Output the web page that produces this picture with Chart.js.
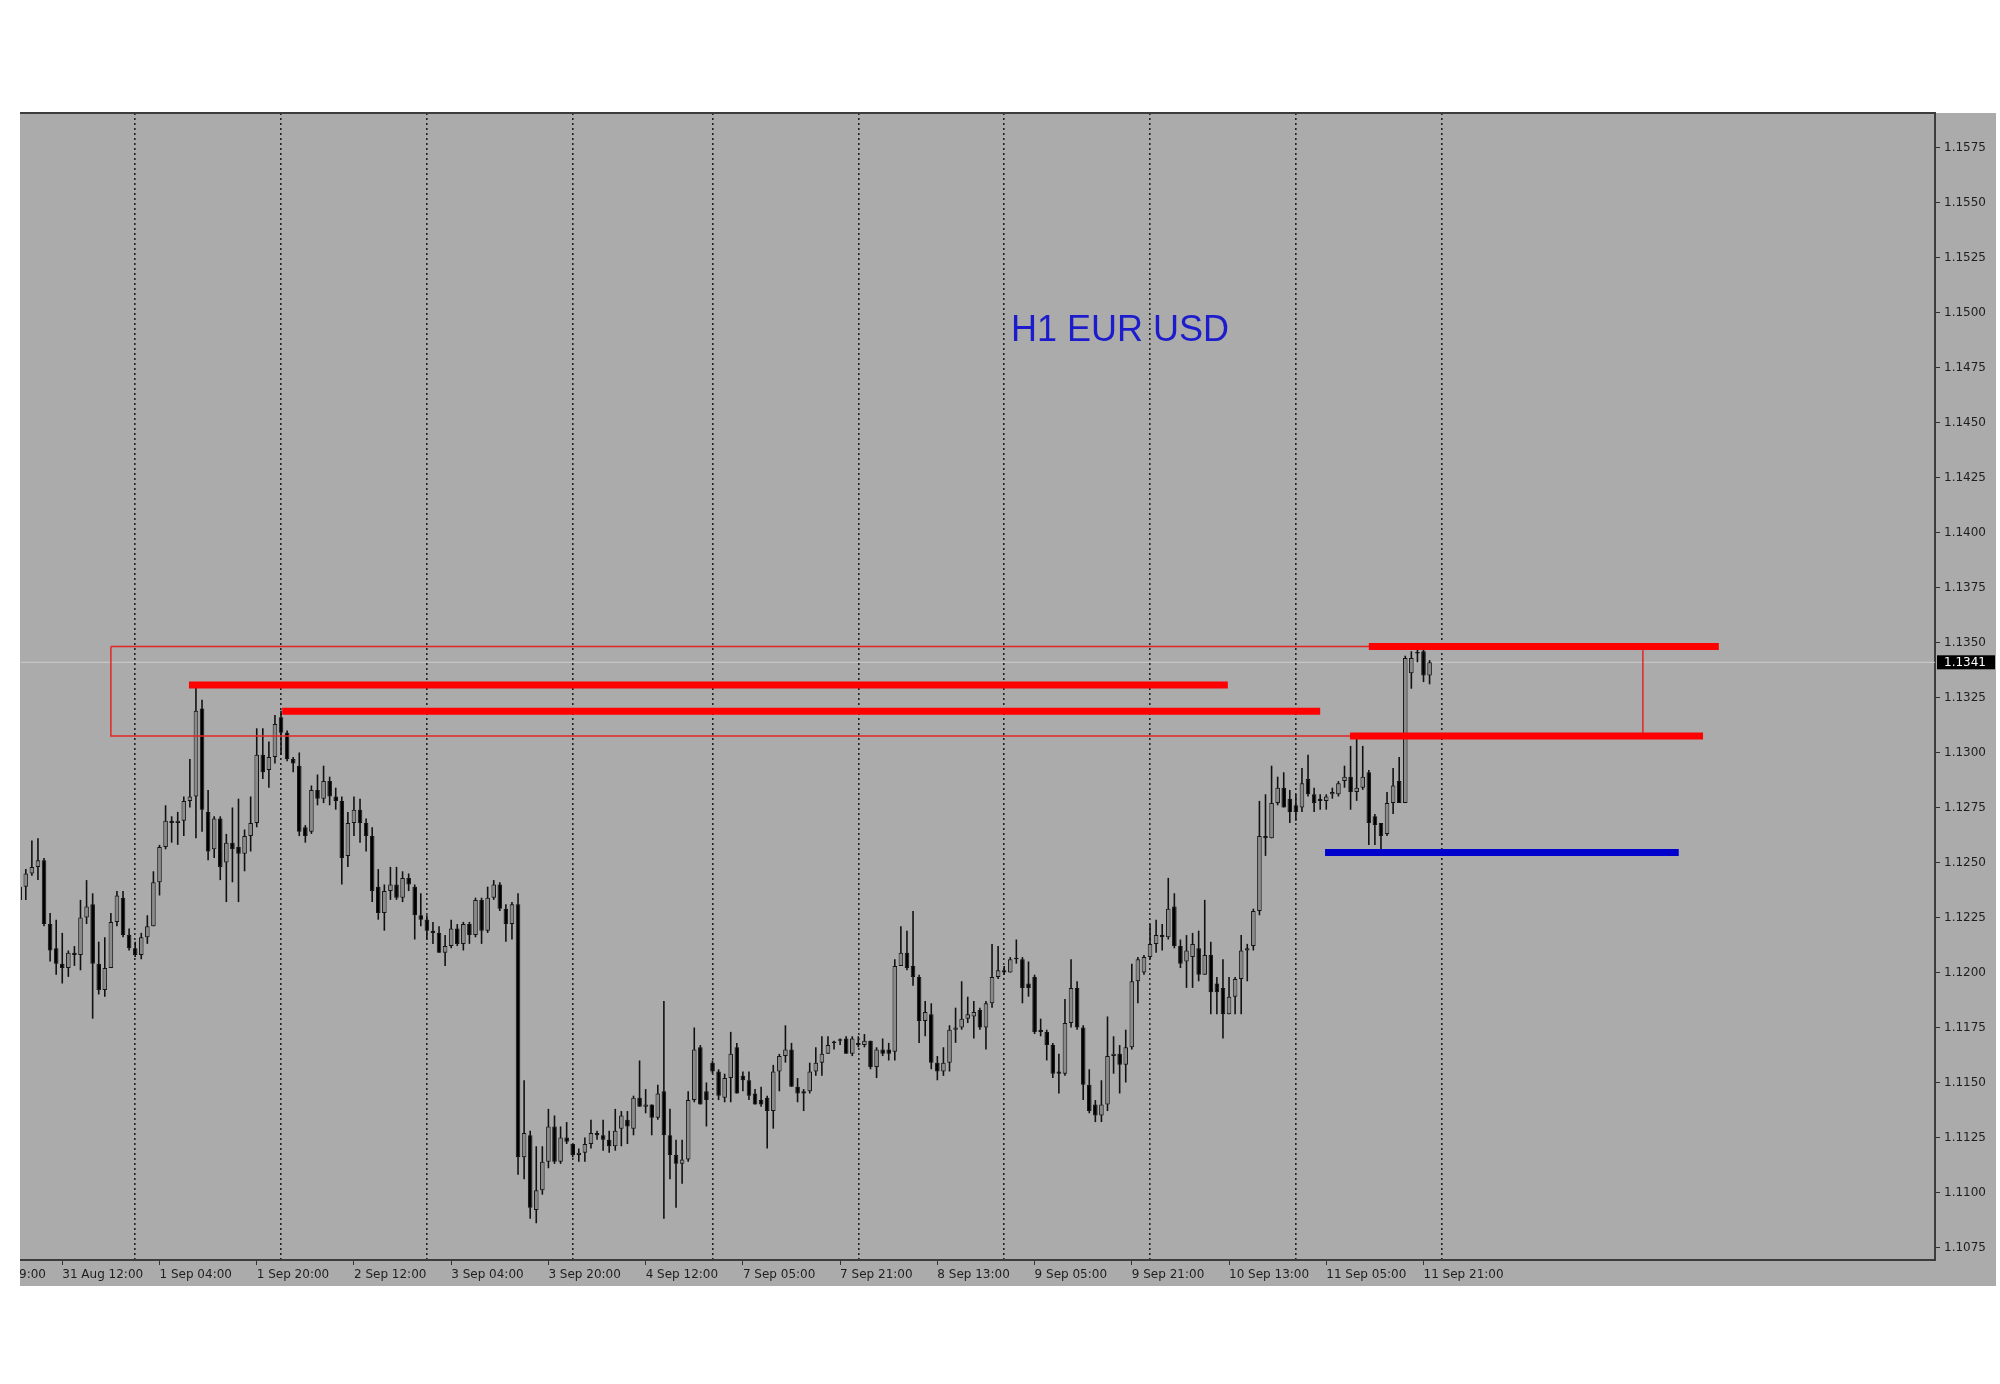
<!DOCTYPE html>
<html><head><meta charset="utf-8">
<script src="https://cdn.jsdelivr.net/npm/chart.js@4.4.1/dist/chart.umd.min.js"></script>
<style>html,body{margin:0;padding:0;background:#fff;} canvas{display:block;}</style>
</head><body>
<canvas id="c" width="2000" height="1384" style="width:2000px;height:1384px"></canvas>
<script>
// ---- DATA (hourly EURUSD bars, 31 Aug 05:00 .. 11 Sep 22:00) ----
const opens = [
1.1233,1.1239,1.1245,1.1248,1.1251,1.1222,1.1211,1.1204,1.1202,1.1209,
1.1208,1.1225,1.1231,1.1204,1.1192,1.1202,1.1223,1.1234,1.1217,1.1211,
1.1208,1.1216,1.1221,1.1241,1.1257,1.1269,1.1268,1.1269,1.1278,1.1280,
1.1320,1.1273,1.1256,1.1270,1.1250,1.1259,1.1257,1.1254,1.1262,1.1268,
1.1299,1.1292,1.1298,1.1316,1.1309,1.1297,1.1294,1.1266,1.1264,1.1283,
1.1279,1.1287,1.1280,1.1278,1.1253,1.1268,1.1274,1.1268,1.1262,1.1239,
1.1227,1.1237,1.1240,1.1234,1.1243,1.1239,1.1226,1.1224,1.1219,1.1218,
1.1209,1.1212,1.1220,1.1213,1.1222,1.1217,1.1233,1.1219,1.1234,1.1240,
1.1229,1.1222,1.1231,1.1116,1.1126,1.1092,1.1101,1.1114,1.1130,1.1114,
1.1125,1.1122,1.1117,1.1118,1.1122,1.1127,1.1126,1.1124,1.1121,1.1129,
1.1133,1.1129,1.1143,1.1139,1.1140,1.1134,1.1146,1.1126,1.1117,1.1113,
1.1115,1.1142,1.1166,1.1146,1.1159,1.1155,1.1143,1.1152,1.1166,1.1153,
1.1151,1.1145,1.1142,1.1143,1.1137,1.1155,1.1162,1.1165,1.1148,1.1146,
1.1146,1.1155,1.1159,1.1163,1.1168,1.1169,1.1170,1.1163,1.1168,1.1167,
1.1169,1.1157,1.1165,1.1165,1.1164,1.1203,1.1209,1.1203,1.1198,1.1178,
1.1181,1.1159,1.1155,1.1159,1.1174,1.1175,1.1179,1.1180,1.1183,1.1175,
1.1186,1.1198,1.1201,1.1200,1.1206,1.1206,1.1195,1.1198,1.1174,1.1173,
1.1167,1.1155,1.1154,1.1177,1.1193,1.1175,1.1149,1.1140,1.1135,1.1140,
1.1162,1.1163,1.1158,1.1166,1.1196,1.1200,1.1207,1.1213,1.1217,1.1216,
1.1230,1.1212,1.1205,1.1207,1.1211,1.1199,1.1208,1.1195,1.1193,1.1181,
1.1189,1.1197,1.1210,1.1212,1.1228,1.1262,1.1261,1.1277,1.1284,1.1279,
1.1276,1.1275,1.1288,1.1281,1.1279,1.1278,1.1281,1.1281,1.1287,1.1289,
1.1282,1.1284,1.1291,1.1271,1.1268,1.1263,1.1277,1.1287,1.1277,1.1336,
1.1345,1.1346,1.1335];
const highs = [
1.1245,1.1247,1.1260,1.1261,1.1252,1.1227,1.1224,1.1218,1.1210,1.1212,
1.1233,1.1242,1.1236,1.1214,1.1216,1.1227,1.1237,1.1237,1.1220,1.1214,
1.1218,1.1226,1.1246,1.1258,1.1276,1.1271,1.1273,1.1280,1.1297,1.1331,
1.1324,1.1283,1.1271,1.1271,1.1263,1.1275,1.1279,1.1265,1.1280,1.1311,
1.1311,1.1305,1.1317,1.1319,1.1310,1.1298,1.1300,1.1267,1.1285,1.1290,
1.1294,1.1289,1.1284,1.1280,1.1273,1.1280,1.1279,1.1270,1.1266,1.1247,
1.1240,1.1248,1.1248,1.1246,1.1245,1.1240,1.1236,1.1226,1.1223,1.1221,
1.1217,1.1224,1.1222,1.1223,1.1223,1.1234,1.1234,1.1239,1.1242,1.1241,
1.1231,1.1232,1.1236,1.1151,1.1128,1.1121,1.1121,1.1138,1.1135,1.1130,
1.1132,1.1122,1.1120,1.1125,1.1133,1.1128,1.1133,1.1128,1.1138,1.1137,
1.1137,1.1144,1.1160,1.1147,1.1140,1.1149,1.1187,1.1138,1.1124,1.1124,
1.1146,1.1175,1.1167,1.1150,1.1160,1.1156,1.1154,1.1173,1.1168,1.1155,
1.1155,1.1147,1.1148,1.1144,1.1158,1.1163,1.1176,1.1168,1.1152,1.1147,
1.1159,1.1166,1.1171,1.1171,1.1169,1.1170,1.1171,1.1171,1.1171,1.1172,
1.1169,1.1166,1.1170,1.1168,1.1206,1.1221,1.1219,1.1228,1.1199,1.1187,
1.1186,1.1162,1.1166,1.1176,1.1184,1.1196,1.1189,1.1187,1.1184,1.1187,
1.1213,1.1212,1.1203,1.1207,1.1215,1.1207,1.1205,1.1199,1.1179,1.1174,
1.1168,1.1163,1.1188,1.1206,1.1196,1.1176,1.1156,1.1142,1.1151,1.1180,
1.1171,1.1167,1.1174,1.1204,1.1207,1.1208,1.1222,1.1224,1.1222,1.1243,
1.1236,1.1215,1.1217,1.1218,1.1219,1.1233,1.1214,1.1198,1.1206,1.1198,
1.1198,1.1217,1.1213,1.1229,1.1278,1.1281,1.1294,1.1289,1.1291,1.1283,
1.1281,1.1293,1.1299,1.1284,1.1281,1.1281,1.1284,1.1287,1.1294,1.1303,
1.1307,1.1303,1.1292,1.1272,1.1268,1.1282,1.1293,1.1298,1.1344,1.1346,
1.1347,1.1347,1.1342];
const lows = [
1.1228,1.1233,1.1244,1.1242,1.1221,1.1205,1.1199,1.1195,1.1198,1.1203,
1.1201,1.1222,1.1179,1.1190,1.1189,1.1202,1.1221,1.1216,1.1210,1.1207,
1.1206,1.1213,1.1221,1.1235,1.1256,1.1259,1.1258,1.1262,1.1275,1.1261,
1.1264,1.1251,1.1252,1.1242,1.1232,1.1241,1.1232,1.1246,1.1255,1.1266,
1.1288,1.1284,1.1295,1.1299,1.1296,1.1291,1.1262,1.1259,1.1263,1.1276,
1.1277,1.1276,1.1274,1.1240,1.1248,1.1262,1.1259,1.1255,1.1232,1.1224,
1.1219,1.1233,1.1233,1.1232,1.1237,1.1215,1.1221,1.1215,1.1213,1.1209,
1.1203,1.1211,1.1212,1.1210,1.1213,1.1216,1.1213,1.1218,1.1233,1.1228,
1.1214,1.1215,1.1108,1.1106,1.1088,1.1086,1.1099,1.1111,1.1113,1.1113,
1.1122,1.1116,1.1114,1.1114,1.1120,1.1124,1.1119,1.1118,1.1119,1.1121,
1.1122,1.1126,1.1139,1.1136,1.1126,1.1133,1.1088,1.1106,1.1093,1.1104,
1.1114,1.1141,1.1140,1.1130,1.1154,1.1142,1.1141,1.1141,1.1145,1.1146,
1.1142,1.1140,1.1139,1.1120,1.1129,1.1146,1.1159,1.1148,1.1141,1.1137,
1.1145,1.1153,1.1153,1.1163,1.1165,1.1167,1.1163,1.1162,1.1166,1.1166,
1.1156,1.1152,1.1162,1.1160,1.1160,1.1203,1.1201,1.1194,1.1168,1.1171,
1.1156,1.1151,1.1153,1.1155,1.1168,1.1174,1.1177,1.1170,1.1174,1.1165,
1.1184,1.1197,1.1199,1.1200,1.1204,1.1186,1.1189,1.1172,1.1171,1.1160,
1.1152,1.1145,1.1153,1.1175,1.1174,1.1142,1.1136,1.1132,1.1132,1.1137,
1.1154,1.1145,1.1150,1.1165,1.1186,1.1199,1.1206,1.1209,1.1210,1.1215,
1.1211,1.1202,1.1193,1.1193,1.1196,1.1199,1.1181,1.1181,1.1170,1.1181,
1.1181,1.1181,1.1196,1.1210,1.1226,1.1253,1.1261,1.1276,1.1275,1.1268,
1.1269,1.1273,1.1280,1.1273,1.1274,1.1274,1.1279,1.1280,1.1284,1.1274,
1.1278,1.1283,1.1258,1.1258,1.1253,1.1262,1.1272,1.1277,1.1277,1.1329,
1.1341,1.1332,1.1331];
const closes = [
1.1239,1.1245,1.1248,1.1251,1.1222,1.1210,1.1204,1.1202,1.1209,1.1208,
1.1225,1.1230,1.1204,1.1192,1.1202,1.1223,1.1235,1.1217,1.1211,1.1208,
1.1216,1.1221,1.1241,1.1257,1.1269,1.1268,1.1269,1.1278,1.1280,1.1319,
1.1274,1.1255,1.1270,1.1248,1.1259,1.1256,1.1254,1.1262,1.1268,1.1299,
1.1291,1.1298,1.1313,1.1309,1.1297,1.1295,1.1264,1.1262,1.1283,1.1279,
1.1287,1.1280,1.1278,1.1252,1.1268,1.1274,1.1268,1.1262,1.1237,1.1227,
1.1237,1.1240,1.1234,1.1243,1.1240,1.1226,1.1224,1.1219,1.1218,1.1209,
1.1212,1.1220,1.1213,1.1222,1.1217,1.1233,1.1219,1.1234,1.1240,1.1229,
1.1222,1.1231,1.1116,1.1127,1.1093,1.1101,1.1114,1.1130,1.1114,1.1125,
1.1123,1.1117,1.1118,1.1122,1.1127,1.1126,1.1124,1.1121,1.1128,1.1135,
1.1130,1.1143,1.1139,1.1140,1.1134,1.1145,1.1126,1.1117,1.1113,1.1115,
1.1142,1.1165,1.1140,1.1142,1.1155,1.1144,1.1152,1.1163,1.1145,1.1151,
1.1144,1.1140,1.1140,1.1137,1.1155,1.1162,1.1165,1.1148,1.1145,1.1145,
1.1155,1.1159,1.1163,1.1167,1.1168,1.1169,1.1163,1.1170,1.1167,1.1169,
1.1157,1.1165,1.1163,1.1163,1.1203,1.1209,1.1202,1.1198,1.1178,1.1182,
1.1159,1.1155,1.1159,1.1174,1.1175,1.1179,1.1181,1.1182,1.1175,1.1186,
1.1198,1.1201,1.1200,1.1206,1.1206,1.1193,1.1193,1.1173,1.1173,1.1167,
1.1154,1.1154,1.1177,1.1193,1.1175,1.1149,1.1137,1.1135,1.1140,1.1162,
1.1163,1.1158,1.1166,1.1196,1.1206,1.1207,1.1213,1.1217,1.1216,1.1229,
1.1212,1.1204,1.1210,1.1213,1.1199,1.1208,1.1191,1.1191,1.1181,1.1189,
1.1197,1.1210,1.1211,1.1228,1.1262,1.1261,1.1277,1.1284,1.1275,1.1273,
1.1273,1.1286,1.1281,1.1277,1.1278,1.1280,1.1282,1.1286,1.1289,1.1282,
1.1284,1.1289,1.1268,1.1267,1.1262,1.1277,1.1285,1.1277,1.1343,1.1343,
1.1345,1.1335,1.1341];

// time-axis labels (bar index of each label, label text)
const xTickBars = [-9, 7, 23, 39, 55, 71, 87, 103, 119, 135, 151, 167, 183, 199, 215, 231];
const xTickLabels = ['28 Aug 19:00','31 Aug 12:00','1 Sep 04:00','1 Sep 20:00','2 Sep 12:00','3 Sep 04:00',
  '3 Sep 20:00','4 Sep 12:00','7 Sep 05:00','7 Sep 21:00','8 Sep 13:00','9 Sep 05:00','9 Sep 21:00',
  '10 Sep 13:00','11 Sep 05:00','11 Sep 21:00'];
// day separators (bar index of each midnight)
const daySeparatorBars = [19, 43, 67, 91, 114, 138, 162, 186, 210, 234];
// price-axis ticks
const yTickValues = [1.1075,1.1100,1.1125,1.1150,1.1175,1.1200,1.1225,1.1250,1.1275,1.1300,
  1.1325,1.1350,1.1375,1.1400,1.1425,1.1450,1.1475,1.1500,1.1525,1.1550,1.1575];
// resistance levels (price, start bar, end bar)
const resistancePrices = [1.13307, 1.13187, 1.13482, 1.13075];
const resistanceStart = [27.85, 43.2, 222.0, 218.9];
const resistanceEnd = [198.8, 214.0, 279.6, 277.0];
// support level
const supportPrices = [1.12545];
const supportStart = [214.8];
const supportEnd = [273.0];
// zone rectangle (top price, bottom price, start bar, end bar)
const zoneTop = 1.13482, zoneBottom = 1.13075, zoneStart = 15.0, zoneEnd = 267.1;
const chartTitle = 'H1 EUR USD';

// ---- STYLE ----
const BG = '#ababab';
const BULL = '#8a8a8a', BEAR = '#000000';
const RED = '#ff0000', BLUE = '#0000cd';
const X_MIN = 0.21, X_MAX = 315.17, Y_MIN = 1.10693, Y_MAX = 1.15907;
const lastPrice = closes[closes.length - 1];

const bodyData = opens.map((o, i) => ({x: i, y: [o, closes[i]]}));
const wickData = lows.map((l, i) => ({x: i, y: [l, highs[i]]}));
const bodyColors = opens.map((o, i) => closes[i] >= o ? BULL : BEAR);

const datasets = [];
resistancePrices.forEach((p, i) => datasets.push({
  type: 'line', data: [{x: resistanceStart[i], y: p}, {x: resistanceEnd[i], y: p}],
  borderColor: RED, borderWidth: 7, pointRadius: 0, borderCapStyle: 'butt', fill: false, order: 0
}));
supportPrices.forEach((p, i) => datasets.push({
  type: 'line', data: [{x: supportStart[i], y: p}, {x: supportEnd[i], y: p}],
  borderColor: BLUE, borderWidth: 7, pointRadius: 0, borderCapStyle: 'butt', fill: false, order: 0
}));
datasets.push({
  type: 'line',
  data: [{x: zoneStart, y: zoneTop}, {x: zoneEnd, y: zoneTop}, {x: zoneEnd, y: zoneBottom},
         {x: zoneStart, y: zoneBottom}, {x: zoneStart, y: zoneTop}],
  borderColor: '#e32626', borderWidth: 1.5, pointRadius: 0, fill: false, tension: 0, order: 0.5
});
datasets.push({
  type: 'line', data: [{x: X_MIN, y: lastPrice}, {x: X_MAX, y: lastPrice}],
  borderColor: '#cdcdcd', borderWidth: 1, pointRadius: 0, fill: false, order: 3
});
datasets.push({
  type: 'bar', data: wickData, backgroundColor: '#111111', barThickness: 1.6,
  grouped: false, order: 2, inflateAmount: 0
});
datasets.push({
  type: 'bar', data: bodyData, backgroundColor: bodyColors, borderColor: '#141414', borderWidth: 1,
  borderSkipped: false, barThickness: 4.6, minBarLength: 1.5, grouped: false, order: 1, inflateAmount: 0
});

const framePlugin = {
  id: 'frame',
  beforeDraw(chart) {
    const ctx = chart.ctx;
    ctx.save();
    ctx.fillStyle = '#ffffff';
    ctx.fillRect(0, 0, chart.width, chart.height);
    ctx.fillStyle = BG;
    ctx.fillRect(20, 113, 1976, 1173);
    ctx.restore();
  },
  afterDraw(chart) {
    const ctx = chart.ctx, a = chart.chartArea, y = chart.scales.y;
    ctx.save();
    ctx.fillStyle = '#ffffff';
    ctx.fillRect(0, a.bottom + 1, 20, 40);
    ctx.strokeStyle = '#3c3c3c'; ctx.lineWidth = 2;
    ctx.beginPath(); ctx.moveTo(20, a.top); ctx.lineTo(a.right, a.top); ctx.stroke();
    const py = y.getPixelForValue(lastPrice);
    ctx.fillStyle = '#000';
    ctx.fillRect(a.right + 2, py - 7, 58, 14);
    ctx.fillStyle = '#fff'; ctx.font = '12px "DejaVu Sans"'; ctx.textBaseline = 'middle'; ctx.textAlign = 'left';
    ctx.fillText(lastPrice.toFixed(4), a.right + 9, py + 0.5);
    ctx.fillStyle = '#1c1ccc'; ctx.font = '36px "Liberation Sans", Arial, sans-serif';
    ctx.textAlign = 'center';
    ctx.fillText(chartTitle, 1120, 331);
    ctx.restore();
  }
};

Chart.defaults.font.family = '"DejaVu Sans", sans-serif';
new Chart(document.getElementById('c'), {
  type: 'bar',
  data: {datasets},
  plugins: [framePlugin],
  options: {
    responsive: false, devicePixelRatio: 1, animation: false, events: [],
    layout: {padding: {left: 21, top: 113, right: 4, bottom: 98}},
    plugins: {legend: {display: false}, tooltip: {enabled: false}, title: {display: false}},
    scales: {
      x: {
        type: 'linear', position: 'bottom', min: X_MIN, max: X_MAX, offset: false,
        afterBuildTicks: s => { s.ticks = xTickBars.map(v => ({value: v})); },
        afterFit: s => { s.height = 26; s.paddingLeft = 0; s.paddingRight = 0; },
        ticks: {autoSkip: false, maxRotation: 0, minRotation: 0, align: 'start', padding: 3,
          color: '#1e1e1e', font: {size: 12}, callback: (v, i) => xTickLabels[i]},
        grid: {drawOnChartArea: false, tickLength: 5, tickColor: '#333', offset: false},
        border: {display: true, color: '#3c3c3c', width: 2}
      },
      xs: {
        type: 'linear', position: 'top', min: X_MIN, max: X_MAX, offset: false,
        afterBuildTicks: s => { s.ticks = daySeparatorBars.map(v => ({value: v})); },
        afterFit: s => { s.height = 0; s.paddingLeft = 0; s.paddingRight = 0; },
        ticks: {display: false},
        grid: {drawOnChartArea: true, drawTicks: false, color: '#222222', lineWidth: 1.6, offset: false},
        border: {display: false, dash: [2, 3]}
      },
      y: {
        type: 'linear', position: 'right', min: Y_MIN, max: Y_MAX,
        afterBuildTicks: s => { s.ticks = yTickValues.map(v => ({value: v})); },
        afterFit: s => { s.width = 61; s.paddingTop = 0; s.paddingBottom = 0; },
        ticks: {autoSkip: false, padding: 4, color: '#1e1e1e', font: {size: 12}, callback: v => Number(v).toFixed(4)},
        grid: {drawOnChartArea: false, tickLength: 5, tickColor: '#333'},
        border: {display: true, color: '#3c3c3c', width: 2}
      }
    }
  }
});
</script>
</body></html>
